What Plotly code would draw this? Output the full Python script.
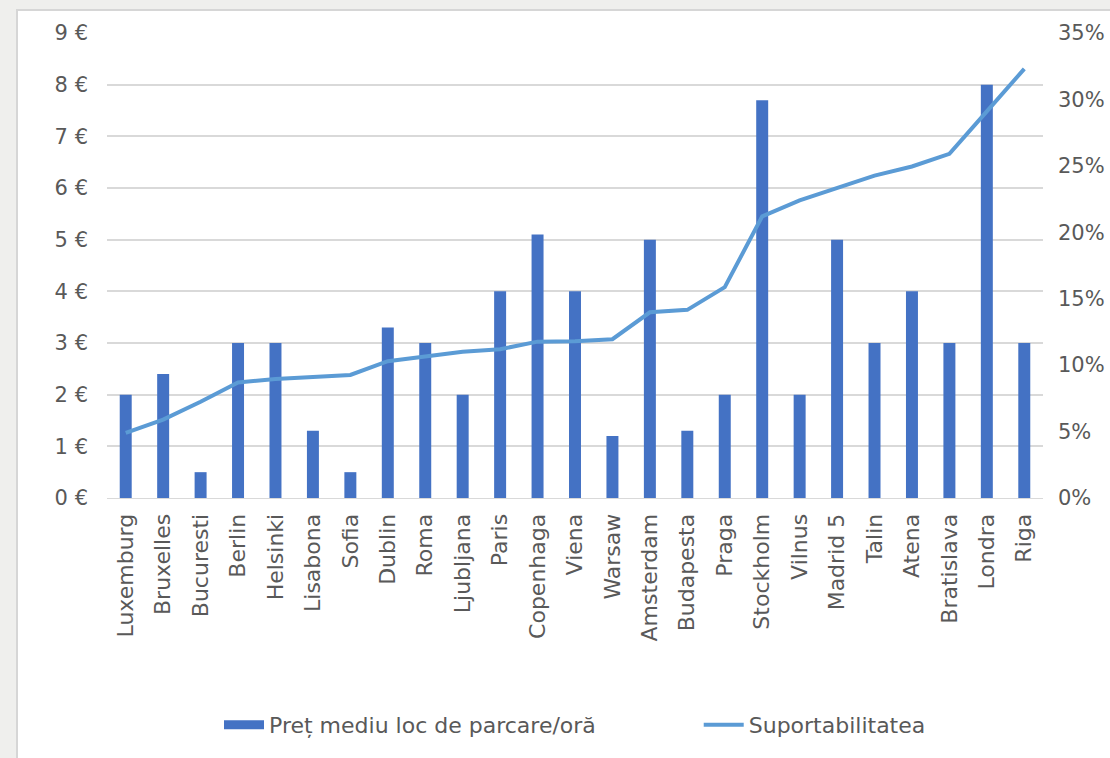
import plotly.graph_objects as go

cities = ["Luxemburg", "Bruxelles", "Bucuresti", "Berlin", "Helsinki", "Lisabona", "Sofia",
          "Dublin", "Roma", "Ljubljana", "Paris", "Copenhaga", "Viena", "Warsaw", "Amsterdam",
          "Budapesta", "Praga", "Stockholm", "Vilnus", "Madrid 5", "Talin", "Atena",
          "Bratislava", "Londra", "Riga"]
price = [2, 2.4, 0.5, 3, 3, 1.3, 0.5, 3.3, 3, 2, 4, 5.1, 4, 1.2, 5, 1.3, 2, 7.7, 2, 5, 3, 4, 3, 8, 3]
affordability = [4.9, 5.9, 7.25, 8.7, 8.95, 9.13, 9.26, 10.3, 10.64, 11.0, 11.2, 11.77, 11.8,
                 11.95, 13.98, 14.16, 15.87, 21.2, 22.4, 23.3, 24.27, 24.95, 25.9, 29.1, 32.3]

FONT = "DejaVu Sans"
TXT = "#595959"
BAR = "#4472C4"
LINE = "#5B9BD5"
FS = 21

fig = go.Figure()
fig.add_trace(go.Bar(x=cities, y=price, name="Preț mediu loc de parcare/oră",
                     marker=dict(color=BAR, line=dict(width=0)), yaxis="y",
                     showlegend=False, legendgroup="price"))
# legend key for the bars drawn as a wide block, like the original
fig.add_trace(go.Scatter(x=[None], y=[None],
                         name="Preț mediu loc de parcare/oră" + "\u00a0" * 14, mode="lines",
                         line=dict(color=BAR, width=9), legendgroup="price"))
fig.add_trace(go.Scatter(x=cities, y=affordability, name="Suportabilitatea", mode="lines",
                         line=dict(color=LINE, width=4), yaxis="y2"))

W, H = 1110, 758
ml, mr, mt, mb = 107, 67, 33, 260
pw, ph = W - ml - mr, H - mt - mb

def px_x(x):
    return (x - ml) / pw

def px_y(y):
    return (H - mb - y) / ph

fig.update_layout(
    width=W, height=H,
    margin=dict(l=ml, r=mr, t=mt, b=mb),
    paper_bgcolor="#efefed",
    plot_bgcolor="rgba(0,0,0,0)",
    font=dict(family=FONT, size=FS, color=TXT),
    bargap=0.68,
    showlegend=True,
    legend=dict(orientation="h", x=0.5, xanchor="center", y=px_y(725), yanchor="middle",
                font=dict(size=22, color=TXT), itemwidth=40, bgcolor="rgba(0,0,0,0)",
                tracegroupgap=0),
    xaxis=dict(tickangle=-90, showgrid=False, showline=True, linecolor="#d9d9d9",
               tickfont=dict(size=22, color=TXT), ticks="", ticklabelstandoff=6,
               automargin=False),
    yaxis=dict(range=[0, 9], dtick=1, ticksuffix=" €", showgrid=True, gridcolor="#d9d9d9",
               gridwidth=1.5, zeroline=False, tickfont=dict(size=FS, color=TXT), ticks="",
               ticklabelstandoff=18, automargin=False),
    yaxis2=dict(range=[0, 35], dtick=5, ticksuffix="%", overlaying="y", side="right",
                showgrid=False, zeroline=False, tickfont=dict(size=FS, color=TXT), ticks="",
                ticklabelstandoff=14, automargin=False),
    shapes=[dict(type="rect", xref="paper", yref="paper", layer="below",
                 x0=px_x(17), x1=px_x(W + 5), y0=px_y(H + 5), y1=px_y(10),
                 fillcolor="white", line=dict(color="#d6d6d6", width=2))],
)

fig.write_html("out.html")
